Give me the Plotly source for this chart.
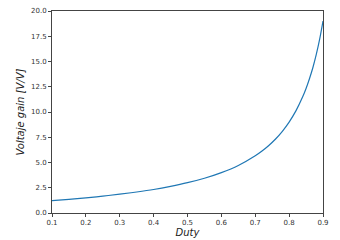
import plotly.graph_objects as go

duty = [0.10, 0.15, 0.20, 0.25, 0.30, 0.35, 0.40, 0.45, 0.50, 0.55, 0.60, 0.65,
        0.70, 0.72, 0.74, 0.76, 0.78, 0.80, 0.82, 0.84, 0.85, 0.86, 0.87, 0.88, 0.89, 0.90]
gain = [1.22, 1.35, 1.50, 1.67, 1.86, 2.08, 2.33, 2.64, 3.00, 3.44, 4.00, 4.71,
        5.67, 6.14, 6.69, 7.33, 8.09, 9.00, 10.11, 11.50, 12.33, 13.29, 14.38, 15.67, 17.18, 19.00]
x_ticks = [0.1, 0.2, 0.3, 0.4, 0.5, 0.6, 0.7, 0.8, 0.9]
y_ticks = [0.0, 2.5, 5.0, 7.5, 10.0, 12.5, 15.0, 17.5, 20.0]

fig = go.Figure(go.Scatter(x=duty, y=gain, mode="lines", line=dict(color="#1f77b4", width=1.2, shape="spline")))

axis_common = dict(showline=True, linecolor="#444", linewidth=1, mirror=True, ticks="outside",
                   ticklen=3, tickwidth=0.8, tickcolor="#444", showgrid=False, zeroline=False,
                   automargin=False,
                   tickfont=dict(family="DejaVu Sans", size=7, color="#333"))
fig.update_xaxes(range=[0.1, 0.9], tickvals=x_ticks, ticktext=[f"{v:.1f}" for v in x_ticks],
                 title=dict(text="<i>Duty</i>", font=dict(family="DejaVu Sans", size=10, color="#222"), standoff=2),
                 **axis_common)
fig.update_yaxes(range=[0, 20], tickvals=y_ticks, ticktext=[f"{v:.1f}" for v in y_ticks],
                 title=dict(text="<i>Voltaje gain [V/V]</i>", font=dict(family="DejaVu Sans", size=10, color="#222"), standoff=4),
                 **axis_common)
fig.update_layout(width=340, height=240, margin=dict(l=52, r=17, t=11, b=27),
                  plot_bgcolor="white", paper_bgcolor="white", showlegend=False)
fig.write_html("out.html", config={"displayModeBar": False},
               post_script="document.body.style.margin='0';")
